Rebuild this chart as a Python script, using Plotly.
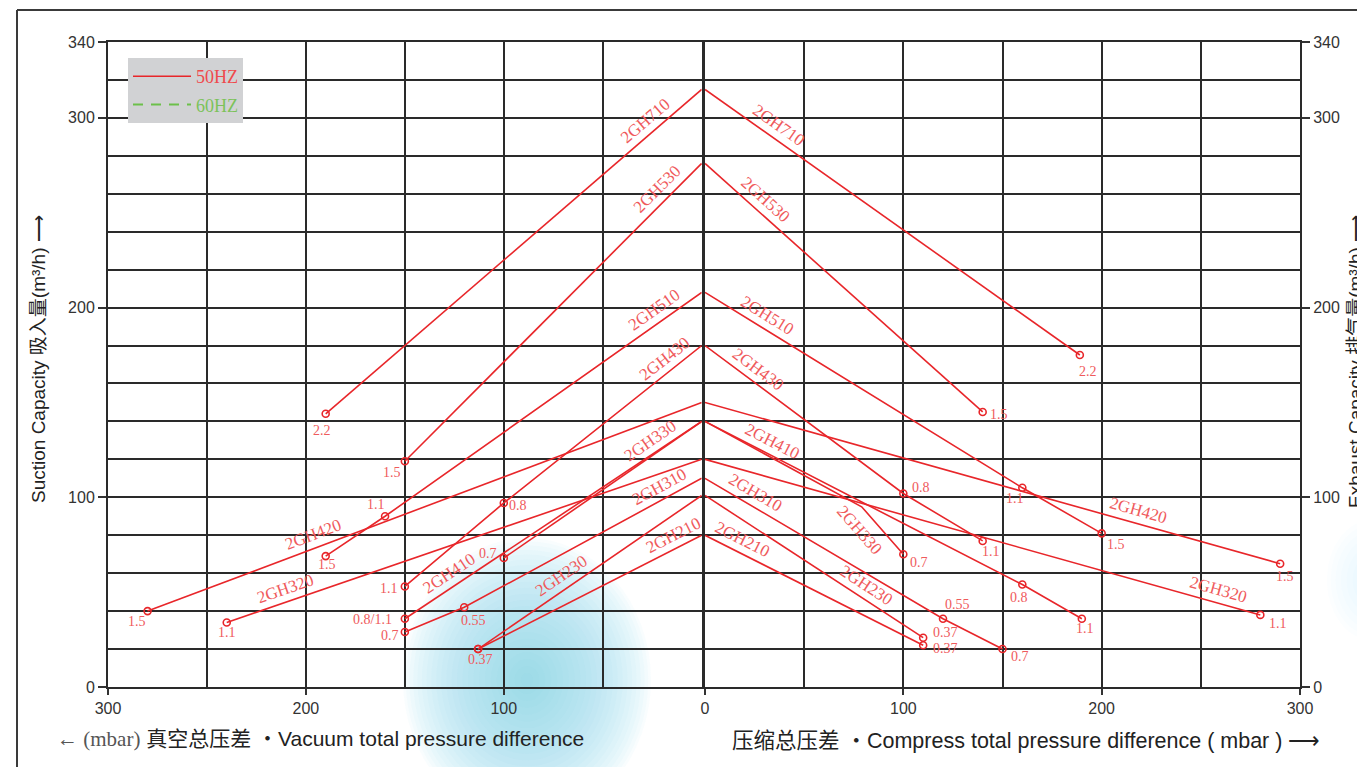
import math
import plotly.graph_objects as go

# ---------------- data ----------------
models = ["2GH710", "2GH530", "2GH510", "2GH430", "2GH420", "2GH410",
          "2GH330", "2GH320", "2GH310", "2GH230", "2GH210"]
peak_flow = [315, 276, 208, 180, 150, 140, 140, 120, 110, 101, 80]

# vacuum side (left): pressure difference (mbar), capacity (m3/h), motor kW label
vac_dp = [[190], [150], [160, 190], [100, 150], [280], [150], [100], [240], [120, 150], [113], [113]]
vac_flow = [[144], [119], [90, 69], [97, 53], [40], [36], [68], [34], [42, 29], [20], [20]]
vac_kw = [["2.2"], ["1.5"], ["1.1", "1.5"], ["0.8", "1.1"], ["1.5"], ["0.8/1.1"], ["0.7"],
          ["1.1"], ["0.55", "0.7"], ["0.37"], [""]]

# compression side (right)
cmp_dp = [[189], [140], [160, 200], [100, 140], [290], [160, 190], [100], [280], [120, 150], [110], [110]]
cmp_flow = [[175], [145], [105, 81], [102, 77], [65], [54, 36], [70], [38], [36, 20], [26], [22]]
cmp_kw = [["2.2"], ["1.5"], ["1.1", "1.5"], ["0.8", "1.1"], ["1.5"], ["0.8", "1.1"], ["0.7"],
          ["1.1"], ["0.55", "0.7"], ["0.37"], ["0.37"]]
# unmarked bend points of curves (pressure, capacity), None if the curve is straight
cmp_bend = [None, None, None, None, None, None, (79, 95), None, None, None, None]

x_ticks_left = [100, 200, 300]
x_ticks_right = [0, 100, 200, 300]
y_ticks = [0, 100, 200, 300, 340]

# ---------------- styles / positions ----------------
W, H = 1357, 767
ML, MR, MT, MB = 108, 57, 42, 80
PW, PH = W - ML - MR, H - MT - MB
dom_left = [0, (701.7 - ML) / PW]
dom_right = [(705 - ML) / PW, 1]
sxL = dom_left[1] * PW / 300
sxR = (1 - dom_right[0]) * PW / 300
sy = PH / 340

RED = "#e8262a"
TXT_RED = "#ef5a5c"
GRID = "#2a2a2a"
SERIF = "Liberation Serif, DejaVu Serif, serif"
SANS = "Liberation Sans, Arial, Noto Sans CJK SC, sans-serif"

# model label position along the curve (mbar) and perpendicular offset (px)
lbl_vac = [24, 17.5, 20, 14.5, 194, 124, 22, 208, 18, 67, 11.5]
lbl_cmp = [33.5, 26, 28, 23, 217, 31, 84.5, 257, 22, 78, 16]
gap_vac = [13] * 11
gap_cmp = [13, 13, 13, 13, 13, 13, -17, 13, 13, 13, 13]

# kW label offsets from the point marker (dx, dy screen px)
vac_off = [[(-4, 17)], [(-13, 11)], [(-9, -12), (1, 8)], [(14, 3), (-16, 2)], [(-11, 10)],
           [(-32, 1)], [(-16, -5)], [(0, 10)], [(9, 13), (-15, 4)], [(2, 10)], [(0, 0)]]
cmp_off = [[(8, 16)], [(16, 3)], [(-7, 11), (14, 11)], [(18, -6), (8, 11)], [(5, 13)],
           [(-3, 13), (3, 10)], [(16, 8)], [(18, 9)], [(14, -14), (17, 7)], [(22, -5)], [(22, 3)]]


def px2paper(px, py):
    return (px - ML) / PW, (H - MB - py) / PH


fig = go.Figure()
annotations = []
shapes = []

# background decoration (light blue glow)
for cx, cy, rx_max, ry_max, n, op in [(527, 680, 124, 142, 24, 0.042), (1372, 580, 45, 60, 8, 0.02)]:
    for i in range(n):
        f = 1 - (i / n) ** 1.2
        rx, ry = rx_max * f, ry_max * f
        x0, y0 = px2paper(cx - rx, cy + ry)
        x1, y1 = px2paper(cx + rx, cy - ry)
        shapes.append(dict(type="circle", xref="paper", yref="paper", x0=x0, y0=y0, x1=x1, y1=y1,
                           fillcolor="rgb(110,198,243)", opacity=op, line=dict(width=0), layer="below"))

# page frame lines
shapes.append(dict(type="line", xref="paper", yref="paper",
                   x0=px2paper(17, 0)[0], x1=px2paper(1357, 0)[0],
                   y0=px2paper(0, 10)[1], y1=px2paper(0, 10)[1],
                   line=dict(color="#3a3a3a", width=2)))
shapes.append(dict(type="line", xref="paper", yref="paper",
                   x0=px2paper(17, 0)[0], x1=px2paper(17, 0)[0],
                   y0=px2paper(0, 10)[1], y1=px2paper(0, 767)[1],
                   line=dict(color="#3a3a3a", width=2)))


def add_side(i, dps, flows, kws, offs, lbl_x, gap, bend, side):
    xa, ya = ("x", "y") if side == "L" else ("x2", "y2")
    sx = sxL if side == "L" else sxR
    pts = [(0, peak_flow[i])] + list(zip(dps, flows))
    if bend is not None:
        pts.append(bend)
    pts.sort(key=lambda p: p[0])
    xs = [p[0] for p in pts]
    ys = [p[1] for p in pts]
    fig.add_trace(go.Scatter(
        x=xs, y=ys, xaxis=xa, yaxis=ya, mode="lines",
        line=dict(color=RED, width=1.6),
        name="<span style='color:#ef4a4c'>50HZ</span>",
        legendgroup="g50", showlegend=(i == 0 and side == "L"),
        hoverinfo="skip"))
    fig.add_trace(go.Scatter(
        x=dps, y=flows, xaxis=xa, yaxis=ya, mode="markers",
        marker=dict(symbol="circle-open", size=7, color=RED, line=dict(width=1.6, color=RED)),
        showlegend=False, hoverinfo="skip"))
    for (xv, yv, k, (dx, dy)) in zip(dps, flows, kws, offs):
        if k:
            annotations.append(dict(x=xv, y=yv, xref=xa, yref=ya, text=k, showarrow=False,
                                    xshift=dx, yshift=-dy,
                                    font=dict(family=SERIF, size=14, color=TXT_RED)))
    # model label along segment
    for j in range(len(xs) - 1):
        if xs[j] <= lbl_x <= xs[j + 1] or j == len(xs) - 2:
            x0, y0, x1, y1 = xs[j], ys[j], xs[j + 1], ys[j + 1]
            break
    t = (lbl_x - x0) / (x1 - x0)
    yl = y0 + t * (y1 - y0)
    a = math.atan(((y0 - y1) * sy) / ((x1 - x0) * sx))
    if side == "L":
        ang = -math.degrees(a)
        xsh = -math.sin(a) * gap
    else:
        ang = math.degrees(a)
        xsh = math.sin(a) * gap
    ysh = math.cos(a) * gap
    annotations.append(dict(x=lbl_x, y=yl, xref=xa, yref=ya, text=models[i], showarrow=False,
                            textangle=ang, xshift=xsh, yshift=ysh,
                            font=dict(family=SERIF, size=17, color=TXT_RED)))


for i in range(len(models)):
    add_side(i, vac_dp[i], vac_flow[i], vac_kw[i], vac_off[i], lbl_vac[i], gap_vac[i], None, "L")
    add_side(i, cmp_dp[i], cmp_flow[i], cmp_kw[i], cmp_off[i], lbl_cmp[i], gap_cmp[i], cmp_bend[i], "R")

# 60HZ legend entry
fig.add_trace(go.Scatter(x=[None], y=[None], mode="lines", xaxis="x", yaxis="y",
                         line=dict(color="#6cc04a", width=2, dash="10px,8px"),
                         name="<span style='color:#7cc25a'>60HZ</span>", legendgroup="g60"))

axis_common = dict(showgrid=True, gridcolor=GRID, gridwidth=2,
                   showline=True, linecolor=GRID, linewidth=2, mirror=True,
                   zeroline=False, ticks="outside", tickcolor="#333", tickwidth=1.5,
                   tickfont=dict(family=SANS, size=16, color="#333"))

fig.update_layout(
    width=W, height=H,
    margin=dict(l=ML, r=MR, t=MT, b=MB),
    paper_bgcolor="white", plot_bgcolor="rgba(0,0,0,0)",
    showlegend=True,
    legend=dict(x=(128 - ML) / PW, y=(H - MB - 58) / PH, xanchor="left", yanchor="top",
                bgcolor="#d1d2d4", borderwidth=0, itemwidth=58,
                traceorder="grouped", tracegroupgap=2,
                font=dict(family=SERIF, size=18)),
    xaxis=dict(domain=dom_left, range=[300, 0], tickvals=x_ticks_left, ticklen=6,
               minor=dict(dtick=50, tick0=0, showgrid=True, gridcolor=GRID, gridwidth=2, ticks=""),
               anchor="y", **axis_common),
    xaxis2=dict(domain=dom_right, range=[0, 300], tickvals=x_ticks_right, ticklen=6,
                minor=dict(dtick=50, tick0=0, showgrid=True, gridcolor=GRID, gridwidth=2, ticks=""),
                anchor="y2", **axis_common),
    yaxis=dict(range=[0, 340], tickvals=y_ticks, ticklen=8, anchor="x", side="left",
               minor=dict(dtick=20, tick0=0, showgrid=True, gridcolor=GRID, gridwidth=2, ticks=""),
               **axis_common),
    yaxis2=dict(range=[0, 340], tickvals=y_ticks, ticklen=8, anchor="x2", side="right",
                minor=dict(dtick=20, tick0=0, showgrid=True, gridcolor=GRID, gridwidth=2, ticks=""),
                **axis_common),
    shapes=shapes,
)

# axis titles
annotations += [
    dict(xref="paper", yref="paper", x=px2paper(38, 0)[0], y=px2paper(0, 359)[1],
         xanchor="center", yanchor="middle",
         text="Suction Capacity 吸入量(m³/h) ⟶", textangle=-90, showarrow=False,
         font=dict(family=SANS, size=19, color="#222")),
    dict(xref="paper", yref="paper", x=px2paper(1355, 0)[0], y=px2paper(0, 362)[1],
         xanchor="center", yanchor="middle",
         text="Exhaust Capacity 排气量(m³/h) ⟶", textangle=-90, showarrow=False,
         font=dict(family=SANS, size=19, color="#222")),
    dict(xref="paper", yref="paper", x=px2paper(55, 0)[0], y=px2paper(0, 739)[1],
         xanchor="left", yanchor="middle",
         text="<span style='font-family:Liberation Serif;color:#555'>← (mbar)</span> 真空总压差 ・Vacuum total pressure difference",
         showarrow=False, font=dict(family=SANS, size=21, color="#222")),
    dict(xref="paper", yref="paper", x=px2paper(730, 0)[0], y=px2paper(0, 741)[1],
         xanchor="left", yanchor="middle",
         text="压缩总压差 ・Compress total pressure difference ( mbar ) ⟶",
         showarrow=False, font=dict(family=SANS, size=21.5, color="#222")),
]
fig.update_layout(annotations=annotations)

fig.write_html("out.html", config={"displayModeBar": False},
               post_script="document.body.style.margin='0';document.body.style.overflow='hidden';")
